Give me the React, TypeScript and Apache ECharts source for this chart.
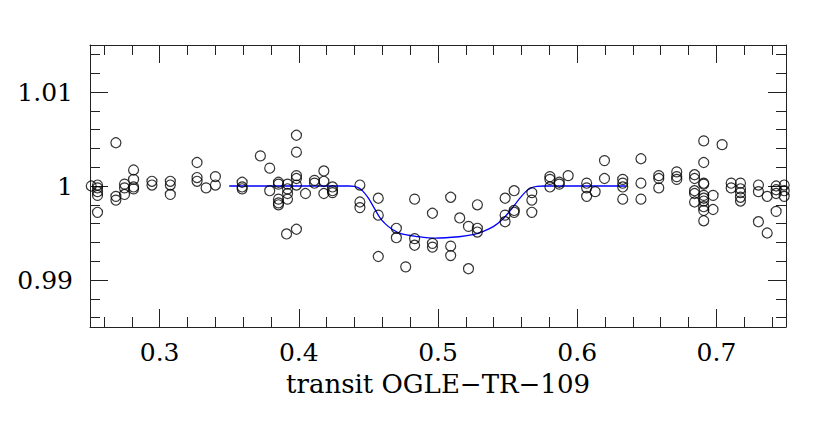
import React, { useEffect, useRef } from "react";
import * as echarts from "echarts";

const xMajorTicks = [0.3, 0.4, 0.5, 0.6, 0.7];
const xMinorTicks = [0.26, 0.28, 0.32, 0.34, 0.36, 0.38, 0.42, 0.44, 0.46, 0.48, 0.52, 0.54, 0.56, 0.58, 0.62, 0.64, 0.66, 0.68, 0.72, 0.74];
const yMajorTicks = [0.99, 1.0, 1.01];
const yMinorTicks = [0.986, 0.988, 0.992, 0.994, 0.996, 0.998, 1.002, 1.004, 1.006, 1.008, 1.012, 1.014];

const xTitle = "transit OGLE\u2212TR\u2212109";

const obsPhase = [
  0.2509, 0.2554, 0.2554, 0.2554, 0.2554, 0.2554, 0.2686, 0.2686, 0.2686, 0.2748,
  0.2748, 0.2748, 0.2813, 0.2813, 0.2813, 0.2813, 0.2945, 0.2945, 0.3077, 0.3077,
  0.3077, 0.3269, 0.3269, 0.3269, 0.3334, 0.3401, 0.3401, 0.3593, 0.3593, 0.3593,
  0.3724, 0.3791, 0.3791, 0.3854, 0.3854, 0.3854, 0.3854, 0.3854, 0.3919, 0.3919,
  0.3919, 0.3919, 0.3912, 0.3983, 0.3983, 0.3983, 0.3983, 0.3983, 0.3983, 0.4048,
  0.4113, 0.4113, 0.418, 0.418, 0.418, 0.4242, 0.4242, 0.4242, 0.4439, 0.4439,
  0.4439, 0.4571, 0.4571, 0.4571, 0.4701, 0.4701, 0.4768, 0.4832, 0.4832, 0.4832,
  0.496, 0.496, 0.496, 0.5091, 0.5091, 0.5091, 0.5156, 0.5219, 0.5219, 0.5283,
  0.5283, 0.5283, 0.5482, 0.5482, 0.5482, 0.5547, 0.5547, 0.5547, 0.5674, 0.5674,
  0.5674, 0.5804, 0.5804, 0.5804, 0.5871, 0.5871, 0.5935, 0.6068, 0.6068, 0.6068,
  0.6129, 0.6196, 0.6196, 0.6327, 0.6327, 0.6327, 0.6327, 0.6458, 0.6458, 0.6458,
  0.6586, 0.6586, 0.6586, 0.6715, 0.6715, 0.6715, 0.6843, 0.6843, 0.6843, 0.6843,
  0.6843, 0.6909, 0.6909, 0.6909, 0.6909, 0.6909, 0.6909, 0.6909, 0.6909, 0.6909,
  0.6909, 0.6976, 0.6976, 0.7041, 0.7106, 0.7106, 0.7173, 0.7173, 0.7173, 0.7173,
  0.7173, 0.7302, 0.7302, 0.7302, 0.7365, 0.7365, 0.7429, 0.7429, 0.7429, 0.7429,
  0.7487, 0.7487, 0.7487,
];

const obsFlux = [
  1.0, 1.0001, 0.9998, 0.9994, 0.999, 0.9972, 1.0046, 0.9989, 0.9985, 1.0002,
  0.9998, 0.9991, 1.0017, 1.0007, 0.9999, 0.9997, 1.0005, 1.0001, 1.0005, 1.0001,
  0.9991, 1.0025, 1.0009, 1.0005, 0.9998, 1.001, 1.0001, 1.0004, 0.9999, 0.9997,
  1.0032, 1.0019, 0.9995, 1.0004, 1.0002, 0.9986, 0.9982, 0.998, 1.0002, 0.9997,
  0.9992, 0.9986, 0.9949, 1.0054, 1.0036, 1.0011, 1.0008, 1.0001, 0.9954, 0.9992,
  1.0006, 1.0003, 1.0016, 1.0005, 0.9992, 0.9999, 0.9995, 0.9993, 1.0001, 0.9983,
  0.9977, 0.9987, 0.9969, 0.9925, 0.9955, 0.9945, 0.9914, 0.9986, 0.9944, 0.9937,
  0.9971, 0.9939, 0.9935, 0.9988, 0.9936, 0.9926, 0.9966, 0.9957, 0.9912, 0.998,
  0.9955, 0.9951, 0.9987, 0.9969, 0.9962, 0.9995, 0.9974, 0.9972, 0.9993, 0.9985,
  0.9972, 1.001, 1.0007, 0.9999, 1.0004, 1.0002, 1.0011, 1.0003, 0.9998, 0.9989,
  0.9994, 1.0027, 1.0008, 1.0007, 1.0003, 0.9999, 0.9986, 1.0029, 1.0003, 0.9986,
  1.0011, 1.0008, 0.9998, 1.0015, 1.001, 1.0007, 1.0012, 1.0008, 0.9995, 0.9992,
  0.9983, 1.0048, 1.0025, 1.0003, 1.0002, 0.999, 0.9987, 0.9984, 0.9978, 0.9974,
  0.9963, 0.999, 0.9975, 1.0044, 1.0003, 0.9998, 1.0003, 0.9997, 0.9993, 0.9988,
  0.9984, 1.0001, 0.9994, 0.9962, 0.9989, 0.995, 1.0, 0.9996, 0.9992, 0.9973,
  1.0001, 0.9995, 0.9989,
];

const modelPhase = [
  0.35, 0.436, 0.44, 0.443, 0.446, 0.45, 0.454, 0.458, 0.462, 0.467, 0.474, 0.484,
  0.498, 0.515, 0.526, 0.533, 0.54, 0.546, 0.552, 0.558, 0.563, 0.567, 0.571, 0.576, 0.635,
];
const modelFlux = [
  1.0, 1.0, 0.99995, 0.9998, 0.99945, 0.9987, 0.9977, 0.9967, 0.996, 0.9954, 0.9949, 0.99465,
  0.99445, 0.9946, 0.99485, 0.9952, 0.9957, 0.9964, 0.9974, 0.99855, 0.9994, 0.9998, 0.99995, 1.0, 1.0,
];

const FONT = "DejaVu Serif";
const FS = 25;
const FRAME = "#222";

const fmt = (v: number) => String(parseFloat(Number(v).toFixed(4)));

export default function App() {
  const ref = useRef<HTMLDivElement>(null);
  useEffect(() => {
    if (!ref.current) return;
    const chart = echarts.init(ref.current, undefined, { renderer: "svg" });
    const xBase = { type: "value", min: 0.25, max: 0.75, splitLine: { show: false } };
    const yBase = { type: "value", min: 0.985, max: 1.015, splitLine: { show: false } };
    const lineStyle = { color: FRAME, width: 1 };
    chart.setOption({
      animation: false,
      backgroundColor: "#fff",
      grid: { left: 90, top: 45, right: 44, bottom: 113, containLabel: false },
      xAxis: [
        {
          ...xBase,
          position: "bottom",
          axisLine: { show: true, lineStyle },
          axisTick: { show: true, inside: true, length: 18, customValues: xMajorTicks, lineStyle },
          axisLabel: { show: true, customValues: xMajorTicks, formatter: fmt, fontFamily: FONT, fontSize: FS, color: "#000", margin: 13 },
          name: xTitle,
          nameLocation: "middle",
          nameGap: 44,
          nameTextStyle: { fontFamily: FONT, fontSize: 26, color: "#000" },
        },
        {
          ...xBase,
          position: "bottom",
          axisLine: { show: false },
          axisTick: { show: true, inside: true, length: 10, customValues: xMinorTicks, lineStyle },
          axisLabel: { show: false },
        },
        {
          ...xBase,
          position: "top",
          axisLine: { show: true, lineStyle },
          axisTick: { show: true, inside: true, length: 18, customValues: xMajorTicks, lineStyle },
          axisLabel: { show: false },
        },
        {
          ...xBase,
          position: "top",
          axisLine: { show: false },
          axisTick: { show: true, inside: true, length: 10, customValues: xMinorTicks, lineStyle },
          axisLabel: { show: false },
        },
      ],
      yAxis: [
        {
          ...yBase,
          position: "left",
          axisLine: { show: true, lineStyle },
          axisTick: { show: true, inside: true, length: 18, customValues: yMajorTicks, lineStyle },
          axisLabel: { show: true, customValues: yMajorTicks, formatter: fmt, fontFamily: FONT, fontSize: FS, color: "#000", margin: 17 },
        },
        {
          ...yBase,
          position: "left",
          axisLine: { show: false },
          axisTick: { show: true, inside: true, length: 10, customValues: yMinorTicks, lineStyle },
          axisLabel: { show: false },
        },
        {
          ...yBase,
          position: "right",
          axisLine: { show: true, lineStyle },
          axisTick: { show: true, inside: true, length: 18, customValues: yMajorTicks, lineStyle },
          axisLabel: { show: false },
        },
        {
          ...yBase,
          position: "right",
          axisLine: { show: false },
          axisTick: { show: true, inside: true, length: 10, customValues: yMinorTicks, lineStyle },
          axisLabel: { show: false },
        },
      ],
      series: [
        {
          type: "line",
          xAxisIndex: 0,
          yAxisIndex: 0,
          data: modelPhase.map((x, i) => [x, modelFlux[i]]),
          showSymbol: false,
          smooth: 0.3,
          lineStyle: { color: "#0000ff", width: 1.3 },
          z: 2,
        },
        {
          type: "scatter",
          xAxisIndex: 0,
          yAxisIndex: 0,
          data: obsPhase.map((x, i) => [x, obsFlux[i]]),
          symbol: "circle",
          symbolSize: 10,
          itemStyle: { color: "transparent", borderColor: "#000", borderWidth: 1.2 },
          z: 3,
        },
      ],
    });
    return () => chart.dispose();
  }, []);
  return <div ref={ref} style={{ position: "absolute", left: 0, top: 0, width: 830, height: 440 }} />;
}
